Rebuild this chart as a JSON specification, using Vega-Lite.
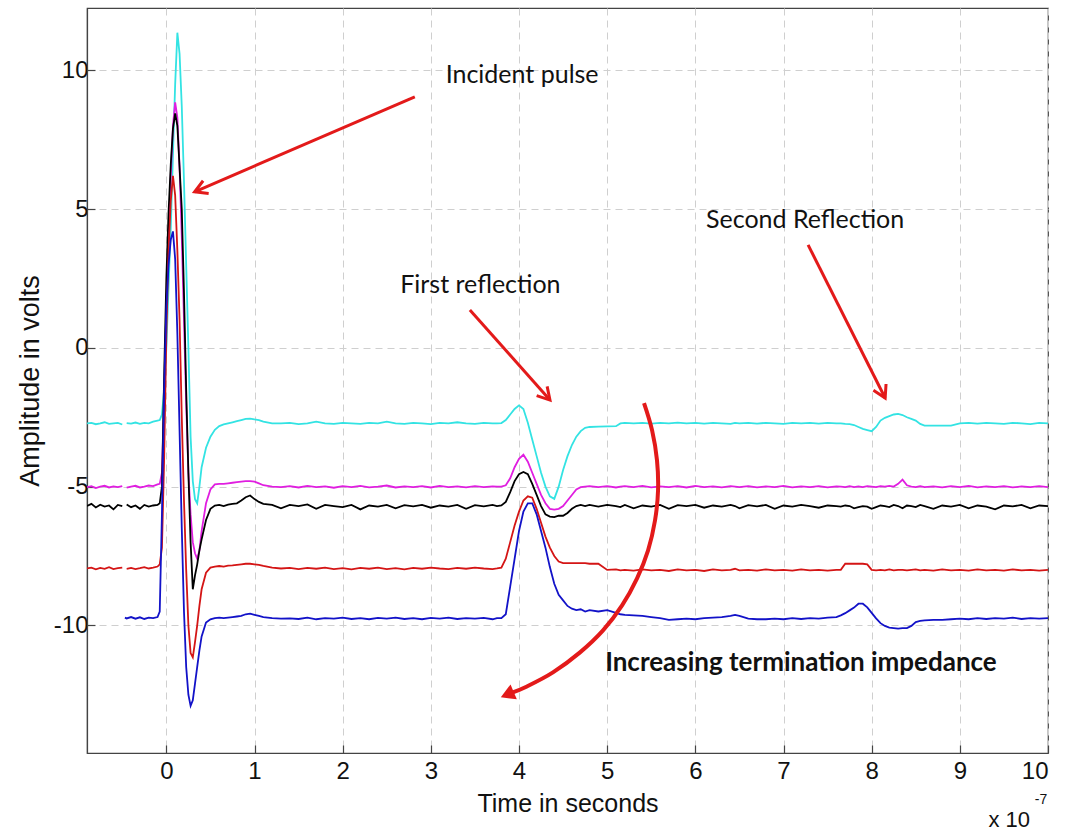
{
  "$schema": "https://vega.github.io/schema/vega-lite/v6.json",
  "width": 961,
  "height": 745,
  "autosize": "none",
  "padding": {"left": 87, "top": 8, "right": 20, "bottom": 78},
  "background": "white",
  "config": {
    "view": {"stroke": "#444", "strokeWidth": 1.2},
    "axis": {
      "gridColor": "#cfcfcf", "gridDash": [7, 5], "gridWidth": 1,
      "domainColor": "#444", "domainWidth": 1.2,
      "tickColor": "#444", "tickSize": -8, "tickWidth": 1.2,
      "labelFont": "Liberation Sans", "labelFontSize": 24, "labelColor": "#111",
      "titleFont": "Liberation Sans", "titleFontSize": 25, "titleFontWeight": "normal", "titleColor": "#111"
    }
  },
  "datasets": {
    "sig": [
      {"t": -0.9, "c": -2.72, "m": -5.02, "k": -5.70, "r": -7.95, "b": null},
      {"t": -0.85, "c": -2.70, "m": -4.98, "k": -5.62, "r": -7.92, "b": null},
      {"t": -0.8, "c": -2.75, "m": -5.05, "k": -5.75, "r": -7.98, "b": null},
      {"t": -0.75, "c": -2.72, "m": -5.00, "k": -5.65, "r": -7.93, "b": null},
      {"t": -0.7, "c": -2.68, "m": -4.97, "k": -5.72, "r": -7.96, "b": null},
      {"t": -0.65, "c": -2.74, "m": -5.03, "k": -5.68, "r": -7.90, "b": null},
      {"t": -0.6, "c": -2.72, "m": -4.99, "k": -5.82, "r": -7.97, "b": null},
      {"t": -0.55, "c": -2.70, "m": -5.02, "k": -5.66, "r": -7.94, "b": null},
      {"t": -0.5, "c": -2.76, "m": -4.98, "k": -5.70, "r": -7.92, "b": null},
      {"t": -0.47, "c": null, "m": null, "k": null, "r": null, "b": -9.72},
      {"t": -0.45, "c": -2.71, "m": -5.04, "k": -5.64, "r": -7.96, "b": -9.75},
      {"t": -0.4, "c": -2.73, "m": -5.00, "k": -5.74, "r": -7.93, "b": -9.70},
      {"t": -0.35, "c": -2.69, "m": -4.97, "k": -5.68, "r": -7.97, "b": -9.76},
      {"t": -0.3, "c": -2.74, "m": -5.03, "k": -5.80, "r": -7.94, "b": -9.71},
      {"t": -0.25, "c": -2.70, "m": -5.00, "k": -5.66, "r": -7.90, "b": -9.77},
      {"t": -0.2, "c": -2.72, "m": -4.96, "k": -5.72, "r": -7.95, "b": -9.72},
      {"t": -0.15, "c": -2.66, "m": -4.98, "k": -5.68, "r": -7.92, "b": -9.74},
      {"t": -0.1, "c": -2.62, "m": -4.92, "k": -5.66, "r": -7.88, "b": -9.70},
      {"t": -0.075, "c": -2.6, "m": -4.9, "k": -5.6, "r": -7.8, "b": -9.5},
      {"t": -0.05, "c": -2.4, "m": -4.5, "k": -5.0, "r": -7.2, "b": -6.0},
      {"t": -0.025, "c": -1.5, "m": -2.0, "k": -1.0, "r": -4.0, "b": -1.5},
      {"t": 0, "c": 0.0, "m": 1.5, "k": 2.5, "r": 0.5, "b": 1.5},
      {"t": 0.025, "c": 2.2, "m": 4.0, "k": 4.9, "r": 3.5, "b": 3.0},
      {"t": 0.05, "c": 4.3, "m": 6.2, "k": 6.6, "r": 5.3, "b": 3.9},
      {"t": 0.075, "c": 7.0, "m": 8.0, "k": 7.9, "r": 6.2, "b": 4.2},
      {"t": 0.1, "c": 9.5, "m": 8.85, "k": 8.45, "r": 5.5, "b": 3.2},
      {"t": 0.125, "c": 11.36, "m": 8.3, "k": 8.0, "r": 3.5, "b": 0.5},
      {"t": 0.15, "c": 10.6, "m": 6.5, "k": 6.5, "r": 1.0, "b": -3.0},
      {"t": 0.175, "c": 8.7, "m": 4.0, "k": 5.0, "r": -2.5, "b": -6.5},
      {"t": 0.2, "c": 6.0, "m": 1.0, "k": 2.0, "r": -5.5, "b": -9.5},
      {"t": 0.225, "c": 3.0, "m": -2.0, "k": -1.5, "r": -8.0, "b": -11.5},
      {"t": 0.25, "c": 0.0, "m": -4.5, "k": -4.5, "r": -10.0, "b": -12.5},
      {"t": 0.275, "c": -3.2, "m": -6.0, "k": -7.0, "r": -11.0, "b": -12.9},
      {"t": 0.3, "c": -4.8, "m": -7.0, "k": -8.7, "r": -11.15, "b": -12.7},
      {"t": 0.325, "c": -5.45, "m": -7.4, "k": -8.2, "r": -10.6, "b": -12.1},
      {"t": 0.35, "c": -5.6, "m": -7.6, "k": -7.8, "r": -10.0, "b": -11.5},
      {"t": 0.375, "c": -5.0, "m": -7.3, "k": -7.3, "r": -9.3, "b": -10.9},
      {"t": 0.4, "c": -4.3, "m": -6.6, "k": -6.9, "r": -8.7, "b": -10.4},
      {"t": 0.45, "c": -3.6, "m": -5.6, "k": -6.2, "r": -8.1, "b": -9.9},
      {"t": 0.5, "c": -3.2, "m": -5.1, "k": -5.8, "r": -7.92, "b": -9.78},
      {"t": 0.55, "c": -2.95, "m": -4.92, "k": -5.68, "r": -7.88, "b": -9.74},
      {"t": 0.6, "c": -2.82, "m": -4.9, "k": -5.66, "r": -7.86, "b": -9.72},
      {"t": 0.65, "c": -2.76, "m": -4.9, "k": -5.7, "r": -7.88, "b": -9.74},
      {"t": 0.7, "c": -2.72, "m": -4.88, "k": -5.65, "r": -7.85, "b": -9.72},
      {"t": 0.75, "c": -2.68, "m": -4.86, "k": -5.62, "r": -7.84, "b": -9.70},
      {"t": 0.8, "c": -2.64, "m": -4.84, "k": -5.60, "r": -7.82, "b": -9.68},
      {"t": 0.85, "c": -2.60, "m": -4.82, "k": -5.5, "r": -7.80, "b": -9.66},
      {"t": 0.9, "c": -2.56, "m": -4.80, "k": -5.38, "r": -7.78, "b": -9.60},
      {"t": 0.95, "c": -2.55, "m": -4.80, "k": -5.32, "r": -7.78, "b": -9.58},
      {"t": 1.0, "c": -2.58, "m": -4.82, "k": -5.45, "r": -7.80, "b": -9.62},
      {"t": 1.05, "c": -2.60, "m": -4.88, "k": -5.55, "r": -7.82, "b": -9.66},
      {"t": 1.1, "c": -2.66, "m": -4.95, "k": -5.62, "r": -7.86, "b": -9.70},
      {"t": 1.2, "c": -2.72, "m": -5.00, "k": -5.66, "r": -7.92, "b": -9.74},
      {"t": 1.3, "c": -2.72, "m": -5.02, "k": -5.78, "r": -7.95, "b": -9.76},
      {"t": 1.4, "c": -2.70, "m": -4.98, "k": -5.66, "r": -7.93, "b": -9.75},
      {"t": 1.5, "c": -2.75, "m": -5.03, "k": -5.70, "r": -7.97, "b": -9.77},
      {"t": 1.6, "c": -2.72, "m": -4.97, "k": -5.64, "r": -7.93, "b": -9.72},
      {"t": 1.7, "c": -2.66, "m": -5.02, "k": -5.80, "r": -7.96, "b": -9.78},
      {"t": 1.8, "c": -2.72, "m": -4.99, "k": -5.66, "r": -7.92, "b": -9.74},
      {"t": 1.9, "c": -2.74, "m": -5.04, "k": -5.70, "r": -7.97, "b": -9.76},
      {"t": 2.0, "c": -2.70, "m": -4.98, "k": -5.74, "r": -7.94, "b": -9.72},
      {"t": 2.1, "c": -2.72, "m": -5.02, "k": -5.66, "r": -7.98, "b": -9.77},
      {"t": 2.2, "c": -2.74, "m": -4.97, "k": -5.82, "r": -7.93, "b": -9.74},
      {"t": 2.3, "c": -2.70, "m": -5.03, "k": -5.68, "r": -7.96, "b": -9.78},
      {"t": 2.4, "c": -2.72, "m": -5.00, "k": -5.72, "r": -7.92, "b": -9.73},
      {"t": 2.5, "c": -2.66, "m": -4.96, "k": -5.66, "r": -7.97, "b": -9.76},
      {"t": 2.6, "c": -2.72, "m": -5.03, "k": -5.78, "r": -7.94, "b": -9.72},
      {"t": 2.7, "c": -2.74, "m": -4.99, "k": -5.67, "r": -7.98, "b": -9.77},
      {"t": 2.8, "c": -2.70, "m": -5.02, "k": -5.71, "r": -7.93, "b": -9.74},
      {"t": 2.9, "c": -2.72, "m": -4.98, "k": -5.66, "r": -7.96, "b": -9.78},
      {"t": 3.0, "c": -2.75, "m": -5.03, "k": -5.76, "r": -7.92, "b": -9.73},
      {"t": 3.1, "c": -2.70, "m": -4.97, "k": -5.68, "r": -7.95, "b": -9.76},
      {"t": 3.2, "c": -2.72, "m": -5.02, "k": -5.72, "r": -7.97, "b": -9.72},
      {"t": 3.3, "c": -2.68, "m": -4.99, "k": -5.66, "r": -7.93, "b": -9.77},
      {"t": 3.4, "c": -2.72, "m": -5.03, "k": -5.80, "r": -7.96, "b": -9.74},
      {"t": 3.5, "c": -2.74, "m": -4.98, "k": -5.67, "r": -7.92, "b": -9.76},
      {"t": 3.6, "c": -2.70, "m": -5.02, "k": -5.71, "r": -7.95, "b": -9.73},
      {"t": 3.7, "c": -2.72, "m": -4.99, "k": -5.66, "r": -7.97, "b": -9.78},
      {"t": 3.75, "c": -2.72, "m": -5.0, "k": -5.70, "r": -7.95, "b": -9.74},
      {"t": 3.8, "c": -2.71, "m": -5.0, "k": -5.68, "r": -7.92, "b": -9.74},
      {"t": 3.85, "c": -2.6, "m": -4.95, "k": -5.55, "r": -7.6, "b": -9.6},
      {"t": 3.9, "c": -2.4, "m": -4.7, "k": -5.2, "r": -7.0, "b": -8.6},
      {"t": 3.95, "c": -2.2, "m": -4.3, "k": -4.8, "r": -6.4, "b": -7.6},
      {"t": 4.0, "c": -2.07, "m": -4.0, "k": -4.55, "r": -5.9, "b": -6.6},
      {"t": 4.05, "c": -2.2, "m": -3.85, "k": -4.47, "r": -5.5, "b": -5.9},
      {"t": 4.1, "c": -2.7, "m": -4.1, "k": -4.55, "r": -5.35, "b": -5.6},
      {"t": 4.15, "c": -3.3, "m": -4.5, "k": -4.9, "r": -5.4, "b": -5.6},
      {"t": 4.2, "c": -3.9, "m": -4.9, "k": -5.3, "r": -5.8, "b": -6.0},
      {"t": 4.25, "c": -4.5, "m": -5.3, "k": -5.7, "r": -6.3, "b": -6.6},
      {"t": 4.3, "c": -5.0, "m": -5.6, "k": -6.0, "r": -6.8, "b": -7.2},
      {"t": 4.35, "c": -5.35, "m": -5.8, "k": -6.08, "r": -7.2, "b": -7.9},
      {"t": 4.4, "c": -5.44, "m": -5.83, "k": -6.1, "r": -7.5, "b": -8.5},
      {"t": 4.45, "c": -5.0, "m": -5.8, "k": -6.05, "r": -7.7, "b": -8.9},
      {"t": 4.5, "c": -4.4, "m": -5.7, "k": -6.05, "r": -7.76, "b": -9.1},
      {"t": 4.55, "c": -3.9, "m": -5.5, "k": -5.95, "r": -7.76, "b": -9.3},
      {"t": 4.6, "c": -3.5, "m": -5.3, "k": -5.8, "r": -7.76, "b": -9.4},
      {"t": 4.65, "c": -3.2, "m": -5.1, "k": -5.7, "r": -7.76, "b": -9.45},
      {"t": 4.7, "c": -3.0, "m": -5.02, "k": -5.66, "r": -7.76, "b": -9.42},
      {"t": 4.75, "c": -2.88, "m": -5.0, "k": -5.7, "r": -7.76, "b": -9.5},
      {"t": 4.8, "c": -2.85, "m": -4.98, "k": -5.66, "r": -7.78, "b": -9.45},
      {"t": 4.9, "c": -2.84, "m": -5.02, "k": -5.72, "r": -7.78, "b": -9.5},
      {"t": 5.0, "c": -2.83, "m": -4.98, "k": -5.66, "r": -8.0, "b": -9.45},
      {"t": 5.1, "c": -2.82, "m": -5.03, "k": -5.70, "r": -7.98, "b": -9.55},
      {"t": 5.15, "c": -2.72, "m": -5.0, "k": -5.74, "r": -8.02, "b": -9.6},
      {"t": 5.2, "c": -2.70, "m": -4.98, "k": -5.66, "r": -8.0, "b": -9.62},
      {"t": 5.3, "c": -2.72, "m": -5.02, "k": -5.78, "r": -8.03, "b": -9.64},
      {"t": 5.4, "c": -2.70, "m": -4.97, "k": -5.68, "r": -7.98, "b": -9.66},
      {"t": 5.5, "c": -2.73, "m": -5.03, "k": -5.72, "r": -8.02, "b": -9.70},
      {"t": 5.6, "c": -2.70, "m": -4.99, "k": -5.66, "r": -8.0, "b": -9.74},
      {"t": 5.7, "c": -2.72, "m": -5.02, "k": -5.80, "r": -8.04, "b": -9.80},
      {"t": 5.8, "c": -2.69, "m": -4.98, "k": -5.67, "r": -7.98, "b": -9.78},
      {"t": 5.9, "c": -2.72, "m": -5.03, "k": -5.70, "r": -8.02, "b": -9.76},
      {"t": 6.0, "c": -2.70, "m": -4.97, "k": -5.66, "r": -8.0, "b": -9.78},
      {"t": 6.1, "c": -2.73, "m": -5.02, "k": -5.76, "r": -8.04, "b": -9.74},
      {"t": 6.2, "c": -2.70, "m": -4.99, "k": -5.68, "r": -7.98, "b": -9.72},
      {"t": 6.3, "c": -2.72, "m": -5.03, "k": -5.72, "r": -8.02, "b": -9.70},
      {"t": 6.4, "c": -2.74, "m": -4.98, "k": -5.66, "r": -8.0, "b": -9.66},
      {"t": 6.45, "c": -2.70, "m": -5.0, "k": -5.70, "r": -7.96, "b": -9.62},
      {"t": 6.5, "c": -2.72, "m": -5.02, "k": -5.78, "r": -8.02, "b": -9.66},
      {"t": 6.6, "c": -2.70, "m": -4.98, "k": -5.67, "r": -8.0, "b": -9.76},
      {"t": 6.7, "c": -2.73, "m": -5.03, "k": -5.71, "r": -8.03, "b": -9.78},
      {"t": 6.8, "c": -2.70, "m": -4.99, "k": -5.66, "r": -7.98, "b": -9.78},
      {"t": 6.9, "c": -2.72, "m": -5.02, "k": -5.80, "r": -8.02, "b": -9.76},
      {"t": 7.0, "c": -2.74, "m": -4.97, "k": -5.68, "r": -8.0, "b": -9.78},
      {"t": 7.1, "c": -2.70, "m": -5.03, "k": -5.72, "r": -8.03, "b": -9.74},
      {"t": 7.2, "c": -2.72, "m": -4.99, "k": -5.66, "r": -7.98, "b": -9.77},
      {"t": 7.3, "c": -2.70, "m": -5.02, "k": -5.70, "r": -8.02, "b": -9.74},
      {"t": 7.4, "c": -2.73, "m": -4.98, "k": -5.76, "r": -8.0, "b": -9.76},
      {"t": 7.5, "c": -2.70, "m": -5.03, "k": -5.68, "r": -8.03, "b": -9.72},
      {"t": 7.6, "c": -2.72, "m": -4.99, "k": -5.70, "r": -8.0, "b": -9.70},
      {"t": 7.65, "c": -2.72, "m": -5.0, "k": -5.72, "r": -8.0, "b": -9.64},
      {"t": 7.7, "c": -2.74, "m": -5.02, "k": -5.68, "r": -7.78, "b": -9.56},
      {"t": 7.75, "c": -2.75, "m": -4.98, "k": -5.70, "r": -7.78, "b": -9.46},
      {"t": 7.8, "c": -2.78, "m": -5.02, "k": -5.78, "r": -7.78, "b": -9.36},
      {"t": 7.85, "c": -2.85, "m": -4.99, "k": -5.74, "r": -7.78, "b": -9.22},
      {"t": 7.9, "c": -2.92, "m": -5.02, "k": -5.70, "r": -7.78, "b": -9.22},
      {"t": 7.95, "c": -2.96, "m": -4.98, "k": -5.72, "r": -7.80, "b": -9.35},
      {"t": 8.0, "c": -3.0, "m": -5.0, "k": -5.80, "r": -8.0, "b": -9.55},
      {"t": 8.05, "c": -2.85, "m": -5.02, "k": -5.74, "r": -8.02, "b": -9.75},
      {"t": 8.1, "c": -2.62, "m": -4.98, "k": -5.68, "r": -8.0, "b": -9.92},
      {"t": 8.15, "c": -2.52, "m": -5.0, "k": -5.70, "r": -8.02, "b": -10.02},
      {"t": 8.2, "c": -2.46, "m": -4.97, "k": -5.74, "r": -7.98, "b": -10.08},
      {"t": 8.25, "c": -2.40, "m": -5.0, "k": -5.66, "r": -8.02, "b": -10.1},
      {"t": 8.3, "c": -2.38, "m": -4.9, "k": -5.70, "r": -8.0, "b": -10.12},
      {"t": 8.35, "c": -2.42, "m": -4.75, "k": -5.78, "r": -8.0, "b": -10.1},
      {"t": 8.4, "c": -2.50, "m": -4.95, "k": -5.68, "r": -8.02, "b": -10.1},
      {"t": 8.45, "c": -2.56, "m": -5.0, "k": -5.70, "r": -8.0, "b": -10.02},
      {"t": 8.5, "c": -2.62, "m": -5.02, "k": -5.74, "r": -7.98, "b": -9.88},
      {"t": 8.55, "c": -2.74, "m": -4.98, "k": -5.66, "r": -8.02, "b": -9.84},
      {"t": 8.6, "c": -2.80, "m": -5.02, "k": -5.70, "r": -8.0, "b": -9.82},
      {"t": 8.7, "c": -2.80, "m": -4.99, "k": -5.80, "r": -8.03, "b": -9.80},
      {"t": 8.8, "c": -2.80, "m": -5.03, "k": -5.68, "r": -7.98, "b": -9.80},
      {"t": 8.9, "c": -2.80, "m": -4.98, "k": -5.72, "r": -8.02, "b": -9.78},
      {"t": 9.0, "c": -2.72, "m": -5.02, "k": -5.66, "r": -8.0, "b": -9.76},
      {"t": 9.1, "c": -2.70, "m": -4.97, "k": -5.78, "r": -8.03, "b": -9.78},
      {"t": 9.2, "c": -2.73, "m": -5.03, "k": -5.68, "r": -7.98, "b": -9.74},
      {"t": 9.3, "c": -2.70, "m": -4.99, "k": -5.72, "r": -8.02, "b": -9.77},
      {"t": 9.4, "c": -2.72, "m": -5.02, "k": -5.82, "r": -8.0, "b": -9.74},
      {"t": 9.5, "c": -2.74, "m": -4.98, "k": -5.68, "r": -8.03, "b": -9.76},
      {"t": 9.6, "c": -2.70, "m": -5.03, "k": -5.71, "r": -7.98, "b": -9.72},
      {"t": 9.7, "c": -2.72, "m": -4.99, "k": -5.66, "r": -8.02, "b": -9.77},
      {"t": 9.8, "c": -2.75, "m": -5.02, "k": -5.78, "r": -8.0, "b": -9.74},
      {"t": 9.9, "c": -2.70, "m": -4.98, "k": -5.68, "r": -8.03, "b": -9.76},
      {"t": 10.0, "c": -2.72, "m": -5.02, "k": -5.70, "r": -8.0, "b": -9.74}
    ],
    "arrows": [
      {"t": 2.818, "v": 9.051, "t2": 0.321, "v2": 5.624},
      {"t": 3.443, "v": 1.367, "t2": 4.351, "v2": -1.880},
      {"t": 7.279, "v": 3.712, "t2": 8.153, "v2": -1.807}
    ],
    "heads": [
      {"id": 1, "i": 1, "t": 0.480, "v": 5.566},
      {"id": 1, "i": 2, "t": 0.321, "v": 5.624},
      {"id": 1, "i": 3, "t": 0.417, "v": 6.024},
      {"id": 2, "i": 1, "t": 4.319, "v": -1.385},
      {"id": 2, "i": 2, "t": 4.351, "v": -1.880},
      {"id": 2, "i": 3, "t": 4.200, "v": -1.721},
      {"id": 3, "i": 1, "t": 8.163, "v": -1.302},
      {"id": 3, "i": 2, "t": 8.153, "v": -1.807},
      {"id": 3, "i": 3, "t": 8.020, "v": -1.530}
    ],
    "arc": [
      {"i": 1, "t": 5.418, "v": -1.991},
      {"i": 2, "t": 5.509, "v": -2.965},
      {"i": 3, "t": 5.565, "v": -4.048},
      {"i": 4, "t": 5.577, "v": -5.130},
      {"i": 5, "t": 5.543, "v": -6.212},
      {"i": 6, "t": 5.464, "v": -7.295},
      {"i": 7, "t": 5.339, "v": -8.305},
      {"i": 8, "t": 5.169, "v": -9.279},
      {"i": 9, "t": 4.953, "v": -10.181},
      {"i": 10, "t": 4.692, "v": -10.974},
      {"i": 11, "t": 4.385, "v": -11.696},
      {"i": 12, "t": 4.090, "v": -12.201},
      {"i": 13, "t": 3.900, "v": -12.45}
    ],
    "archead": [{"t": 3.891, "v": -12.46}],
    "notes": [
      {"t": 4.035, "v": 9.84, "txt": "Incident pulse"},
      {"t": 3.562, "v": 2.269, "txt": "First reflection"},
      {"t": 7.245, "v": 4.614, "txt": "Second Reflection"}
    ],
    "bold": [{"t": 7.198, "v": -11.37, "txt": "Increasing  termination impedance"}],
    "exp": [{"t": 9.56, "v": -17.03, "txt": "x 10"}],
    "sup": [{"t": 9.92, "v": -16.3, "txt": "-7"}]
  },
  "layer": [
    {
      "data": {"name": "sig"},
      "transform": [{"fold": ["c", "m", "k", "r", "b"], "as": ["s", "v"]}],
      "mark": {"type": "line", "strokeWidth": 1.8, "clip": true},
      "encoding": {
        "x": {"field": "t", "type": "quantitative",
              "scale": {"domain": [-0.9, 10.0], "nice": false, "zero": false},
              "axis": {"title": "Time in seconds", "values": [0,1,2,3,4,5,6,7,8,9,10], "labelExpr": "'' + datum.value", "labelPadding": 14, "titlePadding": 8}},
        "y": {"field": "v", "type": "quantitative",
              "scale": {"domain": [-14.6, 12.25], "nice": false, "zero": false},
              "axis": {"title": "Amplitude in volts", "titleFontSize": 27, "values": [-10,-5,0,5,10], "labelExpr": "'' + datum.value", "labelPadding": 7, "titlePadding": 9}},
        "color": {"field": "s", "type": "nominal",
                  "scale": {"domain": ["c", "m", "k", "r", "b"], "range": ["#33e3e3", "#e01ee0", "#000000", "#d41515", "#1212c8"]},
                  "legend": null}
      }
    },
    {
      "data": {"name": "arrows"},
      "mark": {"type": "rule", "color": "#e31a1a", "strokeWidth": 3},
      "encoding": {
        "x": {"field": "t", "type": "quantitative"},
        "y": {"field": "v", "type": "quantitative"},
        "x2": {"field": "t2"},
        "y2": {"field": "v2"}
      }
    },
    {
      "data": {"name": "heads"},
      "mark": {"type": "line", "color": "#e31a1a", "strokeWidth": 3, "strokeJoin": "miter"},
      "encoding": {
        "x": {"field": "t", "type": "quantitative"},
        "y": {"field": "v", "type": "quantitative"},
        "detail": {"field": "id"},
        "order": {"field": "i"}
      }
    },
    {
      "data": {"name": "arc"},
      "mark": {"type": "line", "color": "#e31a1a", "strokeWidth": 4, "interpolate": "cardinal"},
      "encoding": {
        "x": {"field": "t", "type": "quantitative"},
        "y": {"field": "v", "type": "quantitative"},
        "order": {"field": "i"}
      }
    },
    {
      "data": {"name": "archead"},
      "mark": {"type": "point", "shape": "triangle", "filled": true, "color": "#e31a1a", "opacity": 1, "size": 260, "angle": 247},
      "encoding": {
        "x": {"field": "t", "type": "quantitative"},
        "y": {"field": "v", "type": "quantitative"}
      }
    },
    {
      "data": {"name": "notes"},
      "mark": {"type": "text", "font": "Lato", "fontSize": 25, "color": "#111", "align": "center", "baseline": "middle"},
      "encoding": {
        "x": {"field": "t", "type": "quantitative"},
        "y": {"field": "v", "type": "quantitative"},
        "text": {"field": "txt"}
      }
    },
    {
      "data": {"name": "bold"},
      "mark": {"type": "text", "font": "Lato", "fontSize": 26, "fontWeight": "bold", "color": "#111", "align": "center", "baseline": "middle"},
      "encoding": {
        "x": {"field": "t", "type": "quantitative"},
        "y": {"field": "v", "type": "quantitative"},
        "text": {"field": "txt"}
      }
    },
    {
      "data": {"name": "exp"},
      "mark": {"type": "text", "font": "Liberation Sans", "fontSize": 22, "color": "#111", "align": "center", "baseline": "middle"},
      "encoding": {
        "x": {"field": "t", "type": "quantitative"},
        "y": {"field": "v", "type": "quantitative"},
        "text": {"field": "txt"}
      }
    },
    {
      "data": {"name": "sup"},
      "mark": {"type": "text", "font": "Liberation Sans", "fontSize": 14, "color": "#111", "align": "center", "baseline": "middle"},
      "encoding": {
        "x": {"field": "t", "type": "quantitative"},
        "y": {"field": "v", "type": "quantitative"},
        "text": {"field": "txt"}
      }
    }
  ]
}
